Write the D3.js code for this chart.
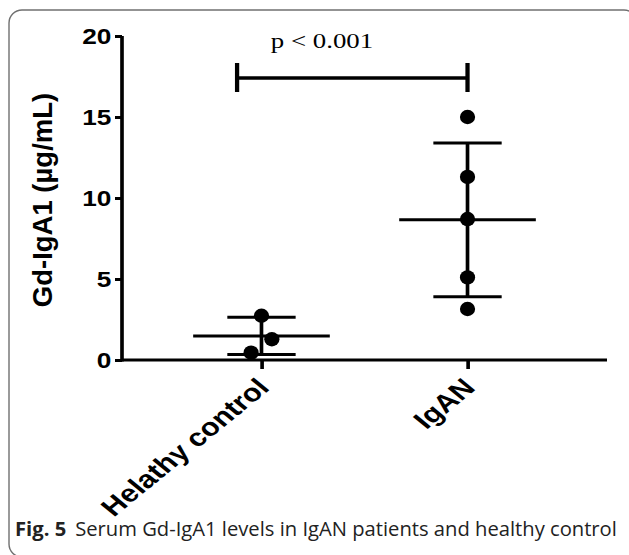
<!DOCTYPE html>
<html>
<head>
<meta charset="utf-8">
<script src="https://cdn.jsdelivr.net/npm/d3@7"></script>
<style>
  html, body { margin: 0; padding: 0; background: #fff; }
  svg { display: block; }
</style>
</head>
<body>
<div id="cvs-container"></div>
<script>
// data
const categories = ["Helathy control", "IgAN"];
const healthyValues = [2.73, 1.28, 0.45];
const iganValues = [15.0, 11.3, 8.7, 5.1, 3.15];
const yTicks = [0, 5, 10, 15, 20];
const pLabel = "p < 0.001";
const yTitle = "Gd-IgA1 (\u00b5g/mL)";
const captionBold = "Fig. 5";
const captionText = "Serum Gd-IgA1 levels in IgAN patients and healthy control";

let width = 629;
let height = 555;

// the original plot is stretched sideways, so draw it in a scaled group
let sx = 1.22;

let svg = d3.select("#cvs-container").append("svg")
    .attr("width", width)
    .attr("height", height);

// frame
svg.append("rect")
    .attr("x", 9).attr("y", 10)
    .attr("width", 628).attr("height", 547)
    .attr("rx", 13).attr("ry", 13)
    .attr("fill", "none")
    .attr("stroke", "#707070")
    .attr("stroke-width", 1.4);

// caption
let cap = svg.append("text")
    .attr("x", 15).attr("y", 536)
    .attr("font-family", "'Open Sans', 'Noto Sans', sans-serif")
    .attr("font-size", 20.2)
    .attr("fill", "#222");
cap.append("tspan").attr("font-weight", "bold").text(captionBold);
cap.append("tspan").attr("dx", 9).text(captionText);

// y title (not stretched)
svg.append("text")
    .attr("transform", "translate(52,200) rotate(-90)")
    .attr("text-anchor", "middle")
    .attr("font-family", "Arial, 'Liberation Sans', sans-serif")
    .attr("font-weight", "bold")
    .attr("font-size", 27.5)
    .text(yTitle);

let g = svg.append("g").attr("transform", `scale(${sx},1)`);

let x = d3.scalePoint()
    .domain(categories)
    .range([122 / sx, 607 / sx])
    .padding(0.677);

let y = d3.scaleLinear()
    .domain([0, 20])
    .range([360, 36]);

let yAxis = g.append("g")
    .attr("transform", `translate(${122 / sx},0)`)
    .call(d3.axisLeft(y).tickValues(yTicks).tickSize(7 / sx).tickPadding(3).tickSizeOuter(0));

let xAxis = g.append("g")
    .attr("transform", "translate(0,360)")
    .call(d3.axisBottom(x).tickSize(9).tickSizeOuter(0));

[yAxis, xAxis].forEach(a => {
    a.select(".domain").attr("stroke", "#000").attr("stroke-width", 3);
    a.selectAll(".tick line").attr("stroke", "#000").attr("stroke-width", 3);
    a.selectAll("text")
        .attr("fill", "#000")
        .attr("font-family", "Arial, 'Liberation Sans', sans-serif")
        .attr("font-weight", "bold");
});
yAxis.select(".domain").attr("d", `M0,${y(0) + 1.5}V${y(20)}`);
xAxis.select(".domain").attr("d", `M${122 / sx},0H${607 / sx}`);
yAxis.selectAll("text").attr("font-size", 21.5).attr("dy", "0.36em");
xAxis.selectAll("text")
    .attr("font-size", 25)
    .attr("text-anchor", "end")
    .attr("x", 0).attr("y", 0).attr("dy", 0)
    .attr("transform", "translate(7,29) rotate(-45)");

// scatter dots with mean and SD
let groups = [healthyValues, iganValues];
let meanHalf = 56;
let capHalf = 28;

groups.forEach((vals, i) => {
    let cx = x(categories[i]);
    let m = d3.mean(vals);
    let sd = d3.deviation(vals);

    let bars = g.append("g").attr("stroke", "#000").attr("stroke-width", 3).attr("fill", "none");
    bars.append("line")
        .attr("x1", cx).attr("x2", cx)
        .attr("y1", y(m + sd)).attr("y2", y(m - sd));
    bars.append("line")
        .attr("x1", cx - meanHalf).attr("x2", cx + meanHalf)
        .attr("y1", y(m)).attr("y2", y(m));
    [m + sd, m - sd].forEach(v => {
        bars.append("line")
            .attr("x1", cx - capHalf).attr("x2", cx + capHalf)
            .attr("y1", y(v)).attr("y2", y(v));
    });

    // spread out dots that sit too close together
    let sorted = vals.slice().sort((a, b) => b - a);
    let side = 0;
    let prev = null;
    let pts = sorted.map(v => {
        if (prev !== null && Math.abs(y(v) - y(prev)) < 28) {
            side = side <= 0 ? 1 : -1;
        } else {
            side = 0;
        }
        prev = v;
        return { v: v, off: side * 8.5 };
    });

    g.append("g").selectAll("ellipse")
        .data(pts)
        .join("ellipse")
        .attr("cx", d => cx + d.off)
        .attr("cy", d => y(d.v))
        .attr("rx", 7.6 / sx)
        .attr("ry", 7.2)
        .attr("fill", "#000");
});

// significance bracket
let bx1 = x(categories[0]) - 20;
let bx2 = x(categories[1]);
let by = 78;
let br = g.append("g").attr("stroke", "#000").attr("stroke-width", 3.5).attr("fill", "none");
br.append("line").attr("x1", bx1).attr("x2", bx2).attr("y1", by).attr("y2", by);
br.append("line").attr("x1", bx1).attr("x2", bx1).attr("y1", by - 15).attr("y2", by + 14);
br.append("line").attr("x1", bx2).attr("x2", bx2).attr("y1", by - 15).attr("y2", by + 14);

g.append("text")
    .attr("x", 322 / sx)
    .attr("y", 48)
    .attr("text-anchor", "middle")
    .attr("font-family", "'Times New Roman', 'Liberation Serif', serif")
    .attr("font-size", 22)
    .text(pLabel);
</script>
</body>
</html>
